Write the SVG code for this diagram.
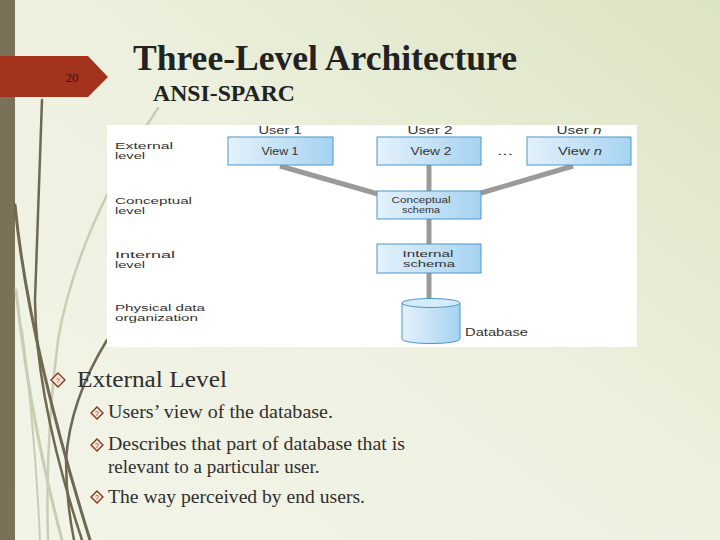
<svg xmlns="http://www.w3.org/2000/svg" width="720" height="540" viewBox="0 0 720 540">
<defs>
<linearGradient id="bg" x1="0" y1="1" x2="1" y2="0">
<stop offset="0" stop-color="#f2f4e8"/>
<stop offset="0.5" stop-color="#eef1e0"/>
<stop offset="1" stop-color="#dbe4c2"/>
</linearGradient>
<linearGradient id="box" x1="0" y1="0" x2="1" y2="0">
<stop offset="0" stop-color="#e4f1fb"/>
<stop offset="1" stop-color="#a6d3f1"/>
</linearGradient>
<style>
.deco{fill:none;stroke:#6f6852;stroke-linecap:round}
.decol{fill:none;stroke:#c9ceb3;stroke-linecap:round}
.title{font-family:"Liberation Serif",serif;font-weight:bold;fill:#222}
.lvl{font-family:"Liberation Sans",Arial,sans-serif;font-size:8.5px;fill:#333}
.db{font-family:"Liberation Sans",Arial,sans-serif;font-size:10px;fill:#333}
.bx{fill:url(#box);stroke:#4a97cc;stroke-width:1}
.bt{font-family:"Liberation Sans",Arial,sans-serif;font-size:10px;fill:#333;text-anchor:middle}
.bs{font-family:"Liberation Sans",Arial,sans-serif;font-size:9px;fill:#333;text-anchor:middle}
.conn{stroke:#9a9a9a;stroke-width:5;fill:none}
.body{font-family:"Liberation Serif",serif;fill:#2f2f2f}
.dia{fill:#f6e6d8;stroke:#7a3518;stroke-width:1.3}
.q{font-family:"Liberation Sans",sans-serif;font-size:7px;fill:#7a3518;text-anchor:middle}
</style>
</defs>
<rect width="720" height="540" fill="url(#bg)"/>
<rect x="0" y="0" width="15" height="540" fill="#7a7159"/>
<g id="decoration">
<path class="decol" d="M158,108 Q130,150 107,195 Q70,270 58,340 Q45,440 48,540" stroke-width="2.5"/>
<path class="decol" d="M16,290 Q30,420 62,540" stroke-width="3"/>
<path class="decol" d="M22,330 Q35,430 40,540" stroke-width="2"/>
<path class="deco" d="M42,100 L35,300 Q36,400 82,540" stroke-width="2.5"/>
<path class="deco" d="M15,205 Q28,340 90,540" stroke-width="3"/>
<path class="deco" d="M107,340 Q70,400 66,460 Q66,500 74,540" stroke-width="2.5"/>
</g>
<g id="banner">
<path d="M0,56 L88,56 L108,77 L88,97 L0,97 Z" fill="#a3331c"/>
<text x="72" y="82" font-family="Liberation Serif,serif" font-size="13" fill="#2a1a10" text-anchor="middle">20</text>
</g>
<text class="title" x="133" y="70" font-size="35" textLength="384" lengthAdjust="spacingAndGlyphs">Three-Level Architecture</text>
<text class="title" x="153" y="101" font-size="24" textLength="142" lengthAdjust="spacingAndGlyphs">ANSI-SPARC</text>
<rect x="107" y="125" width="530" height="222" fill="#ffffff"/>
<g id="levels">
<text class="lvl" x="115" y="149" textLength="58" lengthAdjust="spacingAndGlyphs">External</text>
<text class="lvl" x="115" y="159" textLength="30" lengthAdjust="spacingAndGlyphs">level</text>
<text class="lvl" x="115" y="204" textLength="77" lengthAdjust="spacingAndGlyphs">Conceptual</text>
<text class="lvl" x="115" y="214" textLength="30" lengthAdjust="spacingAndGlyphs">level</text>
<text class="lvl" x="115" y="258" textLength="60" lengthAdjust="spacingAndGlyphs">Internal</text>
<text class="lvl" x="115" y="268" textLength="30" lengthAdjust="spacingAndGlyphs">level</text>
<text class="lvl" x="115" y="311" textLength="90" lengthAdjust="spacingAndGlyphs">Physical data</text>
<text class="lvl" x="115" y="321" textLength="83" lengthAdjust="spacingAndGlyphs">organization</text>
</g>
<g id="connectors">
<line class="conn" x1="280" y1="166" x2="378" y2="194"/>
<line class="conn" x1="573" y1="166" x2="481" y2="193"/>
<line class="conn" x1="429" y1="165" x2="429" y2="191"/>
<line class="conn" x1="429" y1="219" x2="429" y2="244"/>
<line class="conn" x1="429" y1="273" x2="429" y2="301"/>
</g>
<g id="view1">
<text class="bt" x="280" y="134" textLength="43" lengthAdjust="spacingAndGlyphs">User 1</text>
<rect class="bx" x="228" y="137" width="105" height="28"/>
<text class="bt" x="280" y="155" textLength="37" lengthAdjust="spacingAndGlyphs">View 1</text>
</g>
<g id="view2">
<text class="bt" x="430" y="134" textLength="45" lengthAdjust="spacingAndGlyphs">User 2</text>
<rect class="bx" x="377" y="137" width="104" height="28"/>
<text class="bt" x="431" y="155" textLength="41" lengthAdjust="spacingAndGlyphs">View 2</text>
</g>
<text class="bt" x="505" y="155" font-size="12" textLength="16" lengthAdjust="spacingAndGlyphs">...</text>
<g id="viewn">
<text class="bt" x="579" y="134" textLength="45" lengthAdjust="spacingAndGlyphs">User <tspan font-style="italic">n</tspan></text>
<rect class="bx" x="527" y="137" width="104" height="28"/>
<text class="bt" x="580" y="155" textLength="44" lengthAdjust="spacingAndGlyphs">View <tspan font-style="italic">n</tspan></text>
</g>
<g id="conceptual">
<rect class="bx" x="377" y="191" width="104" height="28"/>
<text class="bs" x="421" y="203" textLength="59" lengthAdjust="spacingAndGlyphs">Conceptual</text>
<text class="bs" x="421" y="213" textLength="38" lengthAdjust="spacingAndGlyphs">schema</text>
</g>
<g id="internal">
<rect class="bx" x="377" y="244" width="104" height="29"/>
<text class="bs" x="428" y="257" textLength="51" lengthAdjust="spacingAndGlyphs">Internal</text>
<text class="bs" x="429" y="267" textLength="52" lengthAdjust="spacingAndGlyphs">schema</text>
</g>
<g id="database">
<path d="M402,303 L402,339 A29,4.5 0 0 0 460,339 L460,303" fill="url(#box)" stroke="#4a97cc" stroke-width="1"/>
<ellipse cx="431" cy="303" rx="29" ry="4.5" fill="#d6ebf9" stroke="#4a97cc" stroke-width="1"/>
<text class="db" x="465" y="336" textLength="63" lengthAdjust="spacingAndGlyphs">Database</text>
</g>
<g id="bullets">
<g transform="translate(58,380)">
<path class="dia" d="M0,-7 L7,0 L0,7 L-7,0 Z"/>
<text class="q" x="0" y="2.5">?</text>
</g>
<text class="body" x="77" y="387" font-size="23" textLength="150" lengthAdjust="spacingAndGlyphs">External Level</text>
<g transform="translate(97,413)">
<path class="dia" d="M0,-6 L6,0 L0,6 L-6,0 Z"/>
<text class="q" x="0" y="2.5">?</text>
</g>
<text class="body" x="108" y="418" font-size="19" textLength="225" lengthAdjust="spacingAndGlyphs">Users’ view of the database.</text>
<g transform="translate(97,445)">
<path class="dia" d="M0,-6 L6,0 L0,6 L-6,0 Z"/>
<text class="q" x="0" y="2.5">?</text>
</g>
<text class="body" x="108" y="450" font-size="19" textLength="297" lengthAdjust="spacingAndGlyphs">Describes that part of database that is</text>
<text class="body" x="108" y="473" font-size="19">relevant to a particular user.</text>
<g transform="translate(97,497)">
<path class="dia" d="M0,-6 L6,0 L0,6 L-6,0 Z"/>
<text class="q" x="0" y="2.5">?</text>
</g>
<text class="body" x="108" y="503" font-size="19" textLength="257" lengthAdjust="spacingAndGlyphs">The way perceived by end users.</text>
</g>
</svg>
